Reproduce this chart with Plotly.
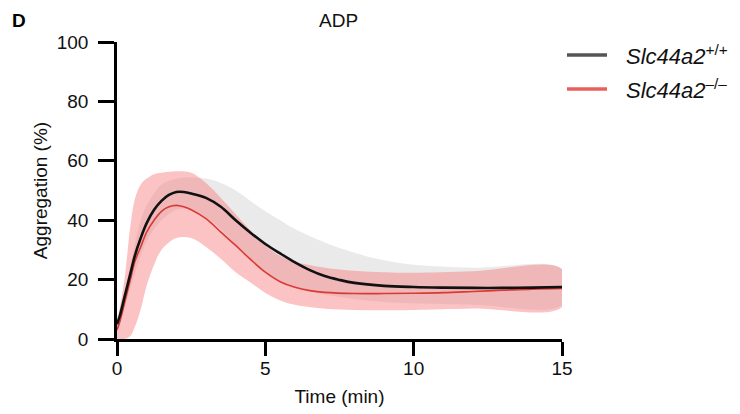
import numpy as np
import plotly.graph_objects as go

# Mean curves, time in min, aggregation in %
t_wt = [0, 0.1, 0.25, 0.45, 0.6, 0.8, 1.0, 1.25, 1.5, 1.75, 2.0, 2.25, 2.5, 3.0, 3.5,
        4.0, 4.5, 5.0, 5.5, 6.0, 6.5, 7.0, 7.5, 8.0, 9.0, 10, 11, 12, 13, 14, 15]
wt_mean = [5, 8, 14, 22, 28, 34, 39, 43.5, 46.5, 48.5, 49.5, 49.5, 49, 47.5, 44.5,
           40, 35.8, 32, 28.8, 25.8, 23.2, 21.2, 19.9, 18.9, 17.9, 17.5, 17.3, 17.2, 17.2, 17.3, 17.5]

t_ko = [0, 0.1, 0.25, 0.45, 0.6, 0.8, 1.0, 1.25, 1.5, 1.75, 2.0, 2.25, 2.5, 3.0, 3.5,
        4.0, 4.5, 5.0, 5.5, 6.0, 6.5, 7.0, 8, 9, 10, 11, 12, 13, 14, 15]
ko_mean = [3, 6, 12, 20, 26, 31, 36, 40, 43, 44.5, 45, 44.5, 43.5, 40.5, 36,
           31.5, 26.8, 22.5, 19.3, 17.4, 16.3, 15.7, 15.3, 15.3, 15.4, 15.6, 16, 16.4, 16.8, 17]

# Error bands (upper / lower edges)
t_band = [0, 0.25, 0.45, 0.6, 0.8, 1.0, 1.25, 1.5, 2.0, 2.5, 3.0, 3.5, 4.0, 4.5,
          5.0, 5.5, 6.0, 7.0, 8.0, 9.0, 10, 12, 15]
wt_upper = [7, 16, 25, 32, 40, 45, 49, 52, 54, 54.5, 54, 52.5, 50, 46.5,
            43, 40, 37, 32.5, 29, 26.5, 25, 24, 23.5]
wt_lower = [3, 10, 17, 22, 28, 33, 37, 40, 43.5, 43.5, 41, 37, 31.5, 26.5,
            22.5, 19.5, 17.5, 15, 13.5, 12.5, 12, 11.5, 11.5]
ko_upper = [5, 20, 38, 47, 52, 54, 55.5, 56, 56.5, 56, 52.5, 47.5, 42, 36.5,
            31.5, 28, 26, 24, 23, 22.5, 22.3, 22.8, 23.5]
ko_lower = [0, 0, 1, 4, 10, 18, 25, 30, 34, 34, 31, 27, 22.5, 19,
            15.5, 13, 11.5, 10.2, 9.8, 9.7, 9.8, 10.3, 10.8]

x_ticks = [0, 5, 10, 15]
y_ticks = [0, 20, 40, 60, 80, 100]
legend_names = ["<i>Slc44a2</i><sup>+/+</sup>", "<i>Slc44a2</i><sup>–/–</sup>"]
legend_colors = ["#555555", "#e8605c"]

FONT = "Liberation Sans, Arial, sans-serif"
FS = 19


def band(t, hi, lo):
    t = np.array(t, float)
    return (np.concatenate([t, t[::-1]]),
            np.concatenate([np.array(hi, float), np.array(lo, float)[::-1]]))


fig = go.Figure()

bx, by = band(t_band, wt_upper, wt_lower)
fig.add_trace(go.Scatter(x=bx, y=by, fill="toself", mode="none",
                         fillcolor="rgba(200,200,200,0.38)", showlegend=False,
                         hoverinfo="skip", line_shape="spline"))
bx, by = band(t_band, ko_upper, ko_lower)
fig.add_trace(go.Scatter(x=bx, y=by, fill="toself", mode="none",
                         fillcolor="rgba(245,115,115,0.43)", showlegend=False,
                         hoverinfo="skip", line_shape="spline"))
fig.add_trace(go.Scatter(x=t_ko, y=ko_mean, mode="lines", showlegend=False,
                         line=dict(color="#d93a36", width=1.6, shape="spline")))
fig.add_trace(go.Scatter(x=t_wt, y=wt_mean, mode="lines", showlegend=False,
                         line=dict(color="#111111", width=2.6, shape="spline")))

axis_common = dict(showline=True, linecolor="black", linewidth=2.5,
                   ticks="outside", tickwidth=2.5, tickcolor="black",
                   showgrid=False, zeroline=False, automargin=False,
                   tickfont=dict(family=FONT, size=FS, color="#111"))

fig.update_xaxes(range=[0, 15], tickvals=x_ticks, ticklen=14, ticklabelstandoff=-4,
                 **axis_common,
                 title=dict(text="Time (min)", standoff=13,
                            font=dict(family=FONT, size=FS, color="#111")))
fig.update_yaxes(range=[0, 100], tickvals=y_ticks, ticklen=16, ticklabelstandoff=6,
                 **axis_common,
                 title=dict(text="Aggregation (%)", standoff=5,
                            font=dict(family=FONT, size=FS, color="#111")))

# plot-area pixel geometry (for placing legend/labels in paper coords)
PL, PR, PT, PB = 117, 562, 42, 339
W, H = PR - PL, PB - PT


def px(x):
    return (x - PL) / W


def py(y):
    return (PB - y) / H


shapes = []
annotations = [
    dict(text="<b>D</b>", x=px(19), y=py(21), xref="paper", yref="paper",
         showarrow=False, xanchor="center", yanchor="middle",
         font=dict(family=FONT, size=19, color="black")),
    dict(text="ADP", x=px(338), y=py(21), xref="paper", yref="paper",
         showarrow=False, xanchor="center", yanchor="middle",
         font=dict(family=FONT, size=FS, color="#111")),
]
for i, (name, col) in enumerate(zip(legend_names, legend_colors)):
    yy = 55 + 34 * i
    shapes.append(dict(type="line", xref="paper", yref="paper",
                       x0=px(567), x1=px(607), y0=py(yy), y1=py(yy),
                       line=dict(color=col, width=3.5)))
    annotations.append(dict(text=name, x=px(624), y=py(yy), xref="paper", yref="paper",
                            showarrow=False, xanchor="left", yanchor="middle",
                            font=dict(family=FONT, size=22, color="#111")))

fig.update_layout(
    width=732, height=406,
    margin=dict(l=109, r=178, t=34, b=75),
    plot_bgcolor="white", paper_bgcolor="white",
    font=dict(family=FONT, size=FS, color="#111"),
    showlegend=False,
    shapes=shapes,
    annotations=annotations,
)

fig.write_html("out.html")
